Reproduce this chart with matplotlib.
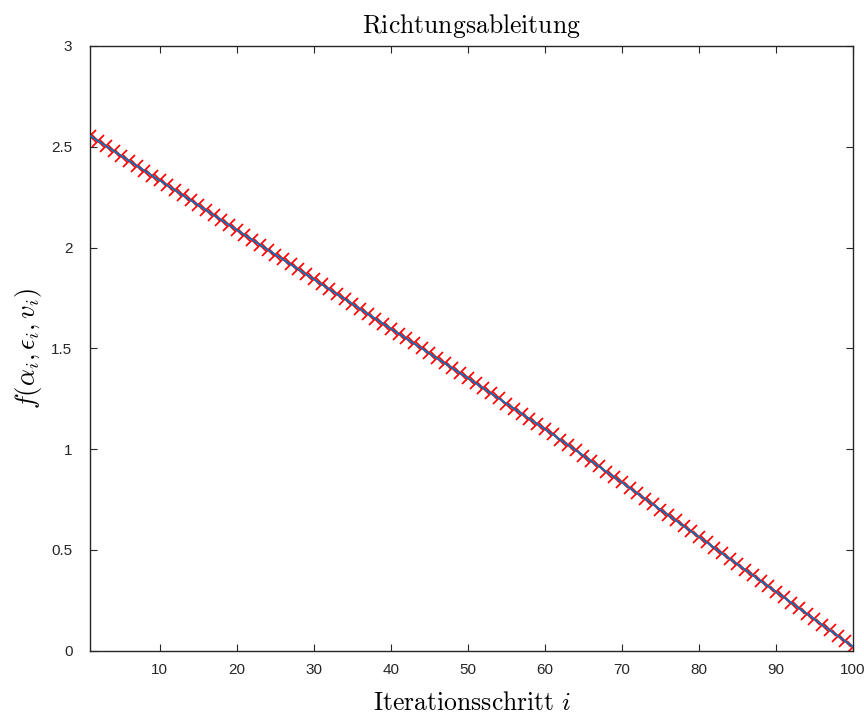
import numpy as np
import matplotlib
matplotlib.use("Agg")
from matplotlib import pyplot as plt

# iteration step i and directional derivative f(alpha_i, eps_i, v_i)
steps = list(range(1, 101))
values = [
    2.553, 2.529, 2.504, 2.480, 2.455, 2.431, 2.406, 2.382, 2.357, 2.333,
    2.308, 2.284, 2.259, 2.235, 2.210, 2.186, 2.161, 2.137, 2.112, 2.088,
    2.063, 2.039, 2.014, 1.990, 1.965, 1.941, 1.916, 1.892, 1.867, 1.843,
    1.818, 1.794, 1.769, 1.745, 1.720, 1.696, 1.671, 1.647, 1.622, 1.598,
    1.573, 1.549, 1.524, 1.500, 1.475, 1.451, 1.426, 1.402, 1.377, 1.353,
    1.328, 1.302, 1.277, 1.252, 1.226, 1.201, 1.176, 1.150, 1.125, 1.100,
    1.074, 1.047, 1.021, 0.994, 0.968, 0.941, 0.915, 0.888, 0.862, 0.835,
    0.808, 0.781, 0.754, 0.727, 0.700, 0.673, 0.646, 0.619, 0.592, 0.565,
    0.538, 0.511, 0.483, 0.456, 0.429, 0.402, 0.375, 0.347, 0.320, 0.293,
    0.266, 0.238, 0.211, 0.184, 0.156, 0.129, 0.102, 0.075, 0.047, 0.020,
]
xticks = [10, 20, 30, 40, 50, 60, 70, 80, 90, 100]
yticks = [0, 0.5, 1, 1.5, 2, 2.5, 3]
yticklabels = ["0", "0.5", "1", "1.5", "2", "2.5", "3"]

plt.rcParams["mathtext.fontset"] = "cm"
plt.rcParams["font.family"] = ["Liberation Sans", "DejaVu Sans"]

fig = plt.figure(figsize=(8.64, 7.16), dpi=100)
ax = fig.add_axes([0.1047, 0.0912, 0.8825, 0.8446])

ax.plot(steps, values, linestyle="none", marker="x", color="red",
        markersize=8, markeredgewidth=1.25, zorder=2)
ax.plot(steps, values, color=(0, 0.447, 0.741), linewidth=1.3, zorder=3)

ax.set_xlim(1, 100)
ax.set_ylim(0, 3)
ax.set_xticks(xticks)
ax.set_yticks(yticks)
ax.set_yticklabels(yticklabels)

for s in ax.spines.values():
    s.set_color("#262626")
    s.set_linewidth(1.0)
ax.tick_params(direction="in", top=True, right=True, length=5, width=0.8,
               colors="#262626", labelsize=11, pad=9)
ax.tick_params(axis="y", pad=13)

ax.set_title(r"$\mathrm{Richtungsableitung}$", fontsize=18.5, pad=9)
ax.set_xlabel(r"$\mathrm{Iterationsschritt}\ i$", fontsize=18.5, labelpad=10)
ax.set_ylabel(r"$f(\alpha_i, \epsilon_i, v_i)$", fontsize=19, labelpad=5)

fig.savefig("out.png", dpi=100)
